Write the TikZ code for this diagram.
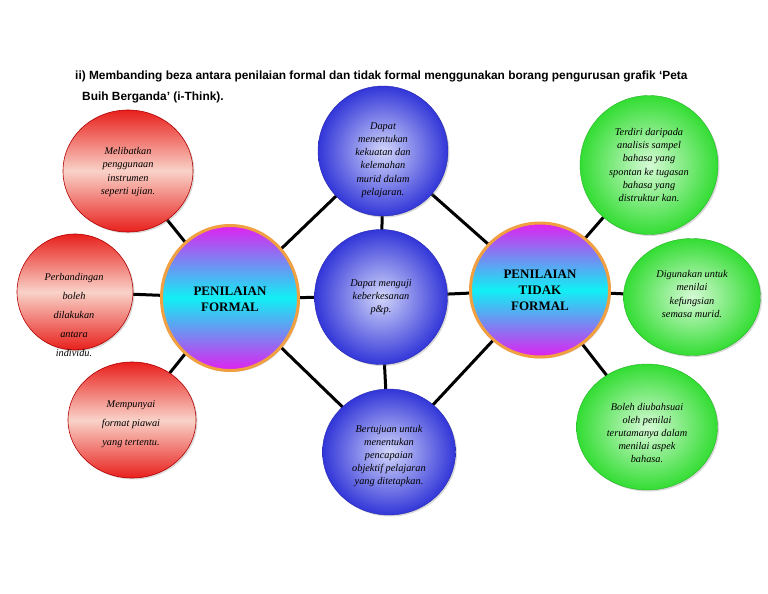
\documentclass[tikz,border=0pt]{standalone}
\usepackage{fontspec}
\setmainfont{Liberation Serif}
\newfontfamily\titlefont{Liberation Sans}
\usetikzlibrary{shapes.geometric,backgrounds,shadows}
\definecolor{redc}{HTML}{E8201C}
\definecolor{redm}{HTML}{F9D2C8}
\definecolor{bluec}{HTML}{3236D8}
\definecolor{bluei}{HTML}{D2D6FA}
\definecolor{greenc}{HTML}{33DD33}
\definecolor{greeni}{HTML}{D6FAD6}
\definecolor{magc}{HTML}{E020F0}
\definecolor{cyanc}{HTML}{10F0F4}
\definecolor{orangec}{HTML}{F0A040}
\tikzset{
  bub/.style={ellipse, inner sep=0pt, drop shadow={shadow xshift=1.5pt, shadow yshift=-1.5pt, opacity=0.3}},
  redb/.style={bub, draw=red!70!black, line width=0.6pt, top color=redc, bottom color=redc, middle color=redm},
  blueb/.style={bub, draw=bluec!80!black, line width=0.4pt, inner color=bluei, outer color=bluec},
  greenb/.style={bub, draw=greenc!80!black, line width=0.4pt, inner color=greeni, outer color=greenc},
  mainb/.style={bub, draw=orangec, line width=3pt, top color=magc, bottom color=magc, middle color=cyanc},
  txt/.style={align=center, inner sep=0pt, font=\fontsize{10.3}{13.2}\selectfont\itshape},
  txtw/.style={align=center, inner sep=0pt, font=\fontsize{10.3}{19}\selectfont\itshape},
  maint/.style={align=center, inner sep=0pt, font=\fontsize{13}{16}\selectfont\bfseries},
  conn/.style={line width=3pt, black},
  titlet/.style={anchor=west, inner sep=0pt, font=\titlefont\fontsize{11.9}{12}\selectfont\bfseries}
}
\begin{document}
\begin{tikzpicture}[x=1pt,y=-1pt]
\useasboundingbox (0,0) rectangle (768,594);
\node[titlet] (t1) at (75,76) {ii) Membanding beza antara penilaian formal dan tidak formal menggunakan borang pengurusan grafik ‘Peta};
\node[titlet] (t2) at (82,97) {Buih Berganda’ (i-Think).};

% bubbles
\node[redb, minimum width=130, minimum height=122] (r1) at (128,171) {};
\node[redb, minimum width=116, minimum height=116] (r2) at (75,292) {};
\node[redb, minimum width=128, minimum height=116] (r3) at (132,420) {};
\node[blueb, minimum width=130, minimum height=130] (b1) at (383,151) {};
\node[blueb, minimum width=133, minimum height=135] (b2) at (381,297) {};
\node[blueb, minimum width=133, minimum height=126] (b3) at (389,452) {};
\node[greenb, minimum width=138, minimum height=139] (g1) at (649,165) {};
\node[greenb, minimum width=137, minimum height=117] (g2) at (692,297) {};
\node[greenb, minimum width=141, minimum height=126] (g3) at (647,427) {};
\node[mainb, minimum width=137, minimum height=145] (f) at (230,298) {};
\node[mainb, minimum width=139, minimum height=134] (nf) at (540,290) {};

% connectors
\begin{scope}[on background layer]
\draw[conn] (f.center) -- (r1.center);
\draw[conn] (f.center) -- (r2.center);
\draw[conn] (f.center) -- (r3.center);
\draw[conn] (f.center) -- (b1.center);
\draw[conn] (f.center) -- (b2.center);
\draw[conn] (f.center) -- (b3.center);
\draw[conn] (nf.center) -- (b1.center);
\draw[conn] (nf.center) -- (b2.center);
\draw[conn] (nf.center) -- (b3.center);
\draw[conn] (nf.center) -- (g1.center);
\draw[conn] (nf.center) -- (g2.center);
\draw[conn] (nf.center) -- (g3.center);
\draw[conn] (b1.center) -- (b2.center);
\draw[conn] (b2.center) -- (b3.center);
\end{scope}

% texts
\node[txt] (r1t) at (128,172) {Melibatkan\\penggunaan\\instrumen\\seperti ujian.};
\node[txtw] (r2t) at (74,315) {Perbandingan\\boleh\\dilakukan\\antara\\individu.};
\node[txtw] (r3t) at (131,424) {Mempunyai\\format piawai\\yang tertentu.};
\node[txt] (b1t) at (383,160) {Dapat\\menentukan\\kekuatan dan\\kelemahan\\murid dalam\\pelajaran.};
\node[txt] (b2t) at (381,297) {Dapat menguji\\keberkesanan\\p\&p.};
\node[txt] (b3t) at (389,456) {Bertujuan untuk\\menentukan\\pencapaian\\objektif pelajaran\\yang ditetapkan.};
\node[txt] (g1t) at (649,165) {Terdiri daripada\\analisis sampel\\bahasa yang\\spontan ke tugasan\\bahasa yang\\distruktur kan.};
\node[txt] (g2t) at (692,294) {Digunakan untuk\\menilai\\kefungsian\\semasa murid.};
\node[txt] (g3t) at (647,433) {Boleh diubahsuai\\oleh penilai\\terutamanya dalam\\menilai aspek\\bahasa.};
\node[maint] (ft) at (230,299) {PENILAIAN\\FORMAL};
\node[maint] (nft) at (540,290) {PENILAIAN\\TIDAK\\FORMAL};
\end{tikzpicture}
\end{document}
